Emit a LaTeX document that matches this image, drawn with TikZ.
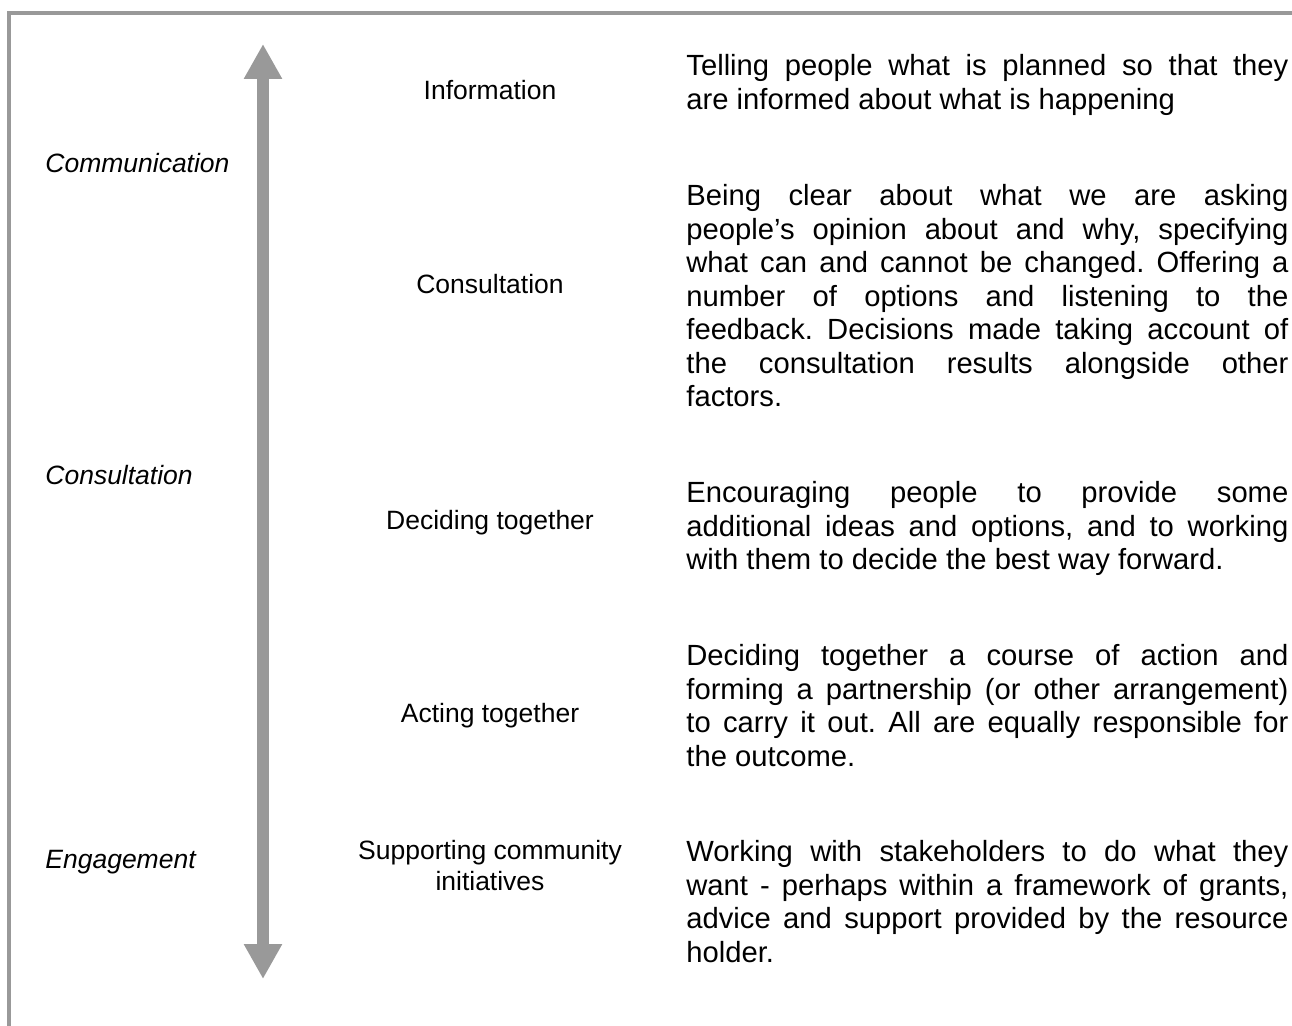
\documentclass[tikz,border=0pt]{standalone}
\usepackage{fontspec}
\setmainfont{Liberation Sans}
\usetikzlibrary{arrows.meta}
\definecolor{framegray}{RGB}{153,153,153}
\tolerance=9999
\hbadness=10000
\frenchspacing

\begin{document}
\begin{tikzpicture}[x=0.5pt,y=-0.5pt,
    >={Triangle[length=17.5pt,width=18pt]},
    level/.style={font=\fontsize{13.25}{15.2}\selectfont, anchor=base, align=center, inner sep=0pt},
    stage/.style={font=\fontsize{13.25}{15.2}\selectfont\itshape, anchor=base west, inner sep=0pt},
    descr/.style={font=\fontsize{14.6}{16.75}\selectfont, anchor=base west, text width=301pt, align=justify, inner sep=0pt}]
    \useasboundingbox (0,0) rectangle (1292,1026);
    \draw[framegray, line width=2pt] (1292,13) -- (9,13) -- (9,1026);
    \coordinate (up) at (263,44);
    \coordinate (down) at (263,979);
    \draw[framegray, line width=6pt, <->] (up) -- (down);

    \node[stage] (comm) at (45,173) {Communication};
    \node[stage] (cons) at (45,485) {Consultation};
    \node[stage] (enga) at (45,869) {Engagement};

    \node[level] (info) at (490,100) {Information};
    \node[level] (consl) at (490,294) {Consultation};
    \node[level] (decl) at (490,530) {Deciding together};
    \node[level] (actl) at (490,723) {Acting together};
    \node[level] (supl) at (490,890) {Supporting community\\initiatives};

    \node[descr] (infod) at (686,76) {Telling people what is planned so that they\linebreak are informed about what is happening};
    \node[descr] (consd) at (686,206) {Being clear about what we are asking\linebreak people’s opinion about and why, specifying\linebreak what can and cannot be changed. Offering a\linebreak number of options and listening to the\linebreak feedback. Decisions made taking account of\linebreak the consultation results alongside other\linebreak factors.};
    \node[descr] (decd) at (686,503) {Encouraging people to provide some\linebreak additional ideas and options, and to working\linebreak with them to decide the best way forward.};
    \node[descr] (actd) at (686,666) {Deciding together a course of action and\linebreak forming a partnership (or other arrangement)\linebreak to carry it out. All are equally responsible for\linebreak the outcome.};
    \node[descr] (supd) at (686,862) {Working with stakeholders to do what they\linebreak want - perhaps within a framework of grants,\linebreak advice and support provided by the resource\linebreak holder.};
\end{tikzpicture}
\end{document}
